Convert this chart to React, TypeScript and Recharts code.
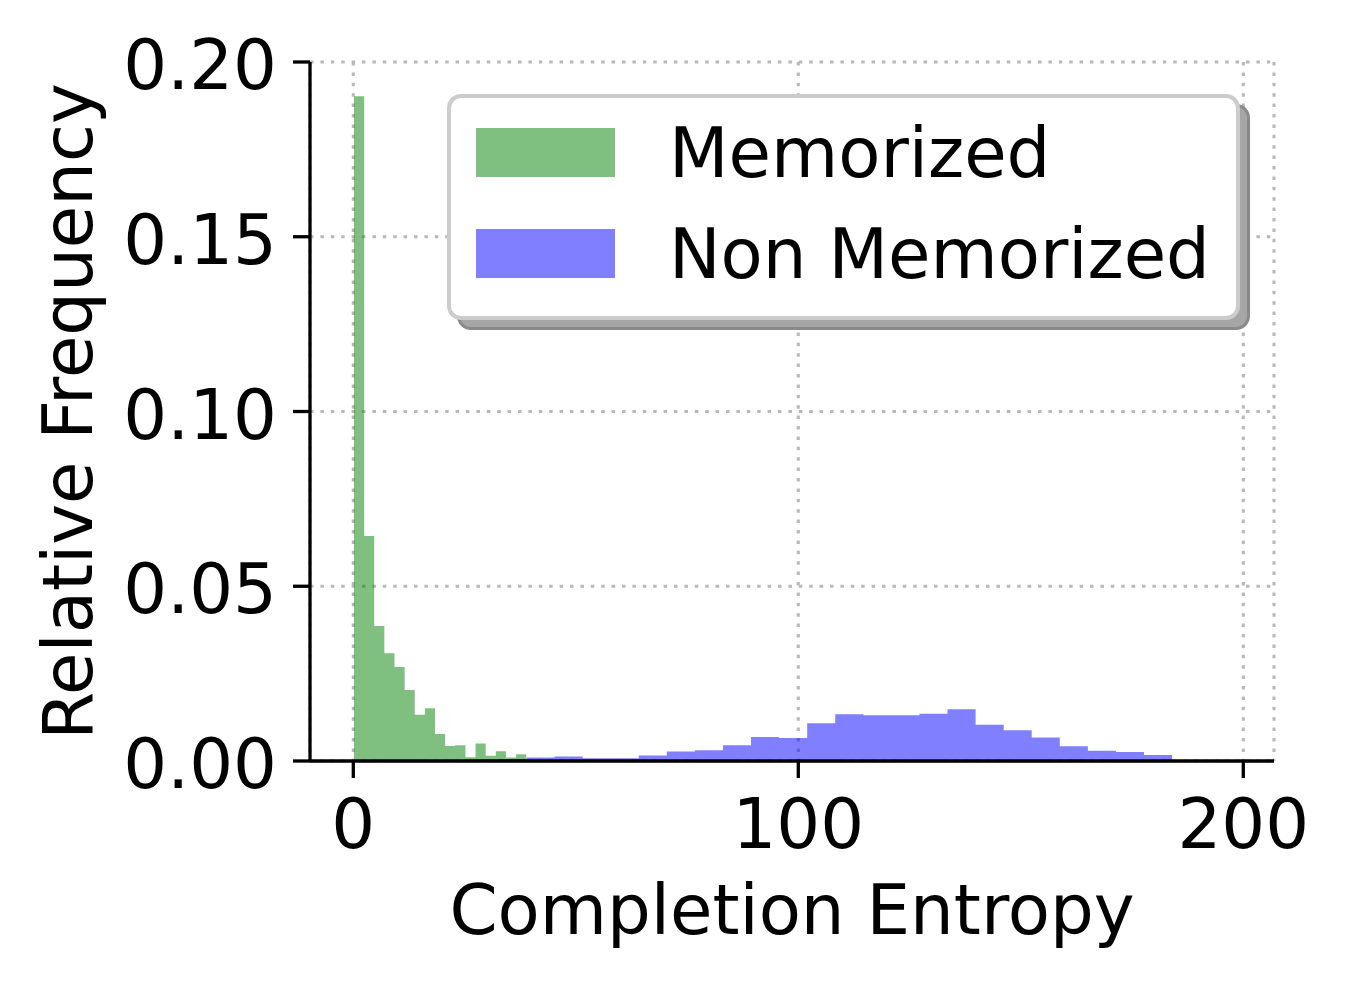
import React from 'react';
import { ComposedChart, Area, XAxis, YAxis, CartesianGrid, Label } from 'recharts';

// Histogram bin edges (Completion Entropy) and relative frequencies
const memorizedBinEdges = [
  0.15, 2.43, 4.7, 6.98, 9.26, 11.54, 13.81, 16.09, 18.37, 20.64, 22.92, 25.2, 27.47, 29.75, 32.03, 34.31,
  36.58, 38.86,
];
const memorizedFreq = [
  0.1902, 0.0644, 0.0386, 0.0308, 0.0269, 0.0203, 0.0132, 0.0151, 0.0077, 0.0043, 0.0045, 0.0011, 0.005,
  0.0015, 0.0028, 0.001, 0.0019,
];

const nonMemorizedBinEdges = [
  1.08, 7.39, 13.7, 20.0, 26.31, 32.62, 38.92, 45.23, 51.54, 57.85, 64.15, 70.46, 76.77, 83.07, 89.38, 95.69,
  102.0, 108.3, 114.61, 120.92, 127.23, 133.53, 139.84, 146.15, 152.45, 158.76, 165.07, 171.38, 177.68,
  183.99, 190.3,
];
const nonMemorizedFreq = [
  0.0001, 0.0002, 0.0003, 0.0002, 0.0004, 0.0006, 0.001, 0.0013, 0.0008, 0.0008, 0.0016, 0.0027, 0.0031,
  0.0045, 0.0069, 0.0066, 0.0108, 0.0134, 0.0131, 0.0131, 0.0135, 0.0148, 0.0104, 0.0088, 0.0067, 0.0042,
  0.0029, 0.0026, 0.0017, 0.0003,
];

const seriesNames = ['Memorized', 'Non Memorized'];
const xTicks = [0, 100, 200];
const yTicks = [0, 0.05, 0.1, 0.15, 0.2];
const xDomain: [number, number] = [-9.73, 206.9];
const yDomain: [number, number] = [0, 0.2];
const xTitle = 'Completion Entropy';
const yTitle = 'Relative Frequency';

const FONT = '"DejaVu Sans", sans-serif';
const FS = 69;
const GREEN = 'rgb(0,128,0)';
const BLUE = 'rgb(0,0,255)';

type Row = { x: number; mem?: number; non?: number };
const rows: Row[] = [];
memorizedBinEdges.forEach((x, i) => {
  rows.push({ x, mem: i < memorizedFreq.length ? memorizedFreq[i] : 0 });
});
nonMemorizedBinEdges.forEach((x, i) => {
  rows.push({ x, non: i < nonMemorizedFreq.length ? nonMemorizedFreq[i] : 0 });
});
rows.sort((a, b) => a.x - b.x);

const XTick = (props: any) => {
  const { x, y, payload } = props;
  return (
    <text x={x} y={y + 70} textAnchor="middle" fontFamily={FONT} fontSize={FS} fill="#000">
      {String(payload.value)}
    </text>
  );
};

const YTick = (props: any) => {
  const { x, y, payload } = props;
  return (
    <text x={x - 16} y={y + 27} textAnchor="end" fontFamily={FONT} fontSize={FS} fill="#000">
      {Number(payload.value).toFixed(2)}
    </text>
  );
};

const XTitle = (props: any) => {
  const vb = props.viewBox || {};
  return (
    <text
      x={vb.x + vb.width / 2}
      y={vb.y + 173}
      textAnchor="middle"
      fontFamily={FONT}
      fontSize={FS}
      fill="#000"
    >
      {xTitle}
    </text>
  );
};

const YTitle = (props: any) => {
  const vb = props.viewBox || {};
  const cx = vb.x + 92;
  const cy = vb.y + vb.height / 2;
  return (
    <text
      x={cx}
      y={cy}
      transform={`rotate(-90, ${cx}, ${cy})`}
      textAnchor="middle"
      fontFamily={FONT}
      fontSize={FS}
      fill="#000"
    >
      {yTitle}
    </text>
  );
};

const LegendBox = () => (
  <>
    <div
      style={{
        position: 'absolute',
        left: 457,
        top: 104,
        width: 793,
        height: 226,
        boxSizing: 'border-box',
        borderRadius: 14,
        background: '#a6a6a6',
        border: '3px solid #8a8a8a',
      }}
    />
    <div
      style={{
        position: 'absolute',
        left: 447,
        top: 94,
        width: 793,
        height: 226,
        boxSizing: 'border-box',
        borderRadius: 14,
        background: '#ffffff',
        border: '4px solid #cccccc',
      }}
    >
      <svg width={785} height={218} style={{ position: 'absolute', left: 0, top: 0 }}>
        <rect x={25} y={30} width={139} height={49} fill={GREEN} fillOpacity={0.5} />
        <rect x={25} y={131} width={139} height={49} fill={BLUE} fillOpacity={0.5} />
        <text x={218} y={79} fontFamily={FONT} fontSize={FS} fill="#000">
          {seriesNames[0]}
        </text>
        <text x={218} y={180} fontFamily={FONT} fontSize={FS} fill="#000">
          {seriesNames[1]}
        </text>
      </svg>
    </div>
  </>
);

export default function App() {
  return (
    <div style={{ position: 'absolute', left: 0, top: 0, width: 1345, height: 985, background: '#fff' }}>
      <ComposedChart
        width={1345}
        height={985}
        data={rows}
        margin={{ top: 62, right: 71, bottom: 0, left: 0 }}
      >
        <XAxis
          dataKey="x"
          type="number"
          domain={xDomain}
          allowDataOverflow
          ticks={xTicks}
          interval={0}
          height={224}
          tickSize={17}
          tickMargin={0}
          axisLine={{ stroke: '#000', strokeWidth: 3.3 }}
          tickLine={{ stroke: '#000', strokeWidth: 3.3 }}
          tick={<XTick />}
        >
          <Label content={<XTitle />} />
        </XAxis>
        <YAxis
          type="number"
          domain={yDomain}
          allowDataOverflow
          ticks={yTicks}
          interval={0}
          width={310}
          tickSize={17}
          tickMargin={0}
          axisLine={{ stroke: '#000', strokeWidth: 3.3 }}
          tickLine={{ stroke: '#000', strokeWidth: 3.3 }}
          tick={<YTick />}
        >
          <Label content={<YTitle />} />
        </YAxis>
        <Area
          dataKey="mem"
          name={seriesNames[0]}
          type="stepAfter"
          connectNulls
          fill={GREEN}
          fillOpacity={0.5}
          stroke="none"
          isAnimationActive={false}
          dot={false}
          activeDot={false}
        />
        <Area
          dataKey="non"
          name={seriesNames[1]}
          type="stepAfter"
          connectNulls
          fill={BLUE}
          fillOpacity={0.5}
          stroke="none"
          isAnimationActive={false}
          dot={false}
          activeDot={false}
        />
        <CartesianGrid stroke="#b8b8b8" strokeWidth={3} strokeDasharray="3.5 6.9" />
      </ComposedChart>
      <LegendBox />
    </div>
  );
}
